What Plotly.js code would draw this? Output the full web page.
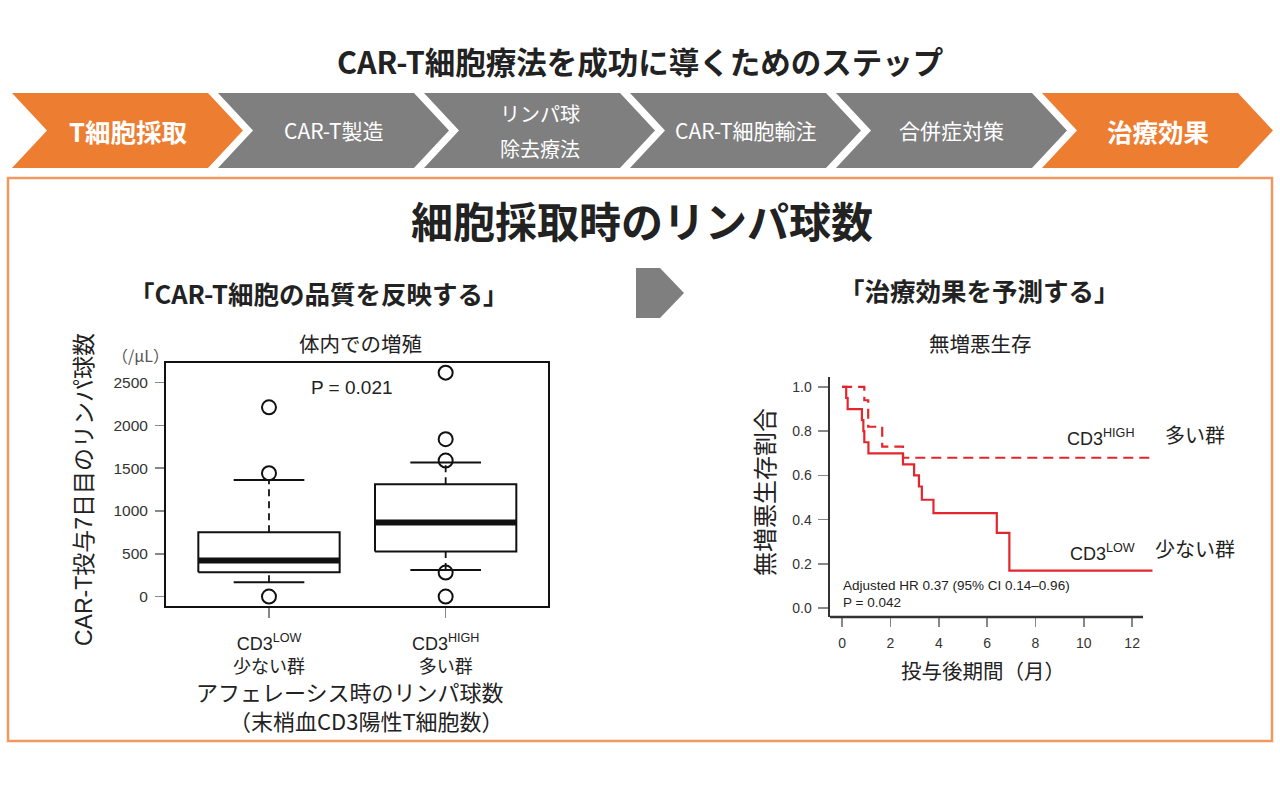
<!DOCTYPE html>
<html><head><meta charset="utf-8">
<script src="https://cdn.plot.ly/plotly-3.0.1.min.js"></script>
<style>html,body{margin:0;padding:0;background:#fff}#chart{width:1280px;height:791px}</style>
</head><body><div id="chart"></div>
<script>
const W = 1280, H = 791;

// ---- Step chevrons ----
const steps = ['T細胞採取', 'CAR-T製造', 'リンパ球<br>除去療法', 'CAR-T細胞輸注', '合併症対策', '治療効果'];
const stepHighlight = [true, false, false, false, false, true];

// ---- Box plot (体内での増殖) ----
const groupLabels = ['CD3<sup>LOW</sup><br>少ない群', 'CD3<sup>HIGH</sup><br>多い群'];
const boxQ1 = [285, 526];
const boxMedian = [421, 865];
const boxQ3 = [752, 1313];
const whiskerLow = [168, 312];
const whiskerHigh = [1363, 1566];
const pointsLow = [0, 1441, 2212];
const pointsHigh = [0, 281, 1589, 1839, 2617];
const boxYTicks = [0, 500, 1000, 1500, 2000, 2500];

// ---- Kaplan-Meier (無増悪生存) ----
const kmLowTime  = [0, 0.17, 0.23, 0.82, 0.88, 0.92, 1.09, 2.52, 2.98, 3.18, 3.30, 3.78, 6.40, 6.92, 12.85];
const kmLowSurv  = [1.0, 0.95, 0.90, 0.85, 0.80, 0.75, 0.70, 0.65, 0.60, 0.55, 0.49, 0.43, 0.34, 0.17, 0.17];
const kmHighTime = [0, 0.92, 1.08, 1.66, 2.52, 12.85];
const kmHighSurv = [1.0, 0.94, 0.82, 0.73, 0.68, 0.68];
const kmXTicks = [0, 2, 4, 6, 8, 10, 12];
const kmYTicks = [0, 0.2, 0.4, 0.6, 0.8, 1.0];

const F_JP = 'Noto Sans CJK JP, sans-serif';
const F_R = 'Liberation Sans, Arial, Noto Sans CJK JP, sans-serif';
const ORANGE = '#ED7D31', GRAY = '#7F7F7F', RED = '#E3262E';

const px = x => x / W;
const py = y => 1 - y / H;
const annotations = [];
function ann(text, x, y, size, o = {}) {
  annotations.push(Object.assign({
    text, x: px(x), y: py(y), xref: 'paper', yref: 'paper', showarrow: false,
    xanchor: o.xanchor || 'center', yanchor: 'middle',
    font: {family: o.family || F_JP, size, color: o.color || '#222', weight: o.bold ? 'bold' : 'normal'}
  }, o.extra || {}));
}
function pathOf(pts) {
  return 'M ' + pts.map(p => px(p[0]).toFixed(5) + ',' + py(p[1]).toFixed(5)).join(' L ') + ' Z';
}

const shapes = [];
// outer orange frame
shapes.push({type: 'rect', xref: 'paper', yref: 'paper', x0: px(8), x1: px(1272), y0: py(741), y1: py(178),
  line: {color: '#F0985E', width: 2.5}, fillcolor: 'rgba(0,0,0,0)', layer: 'below'});

// chevrons
const cTop = 93, cBot = 168, cMid = 130.5, cW = 196, cD = 35, cStep = 206;
steps.forEach((s, i) => {
  const xl = 12 + cStep * i;
  shapes.push({type: 'path', xref: 'paper', yref: 'paper',
    path: pathOf([[xl, cTop], [xl + cW, cTop], [xl + cW + cD, cMid], [xl + cW, cBot], [xl, cBot], [xl + cD, cMid]]),
    fillcolor: stepHighlight[i] ? ORANGE : GRAY, line: {width: 0}});
  const cx = xl + (cW + cD) / 2;
  const lines = s.split('<br>');
  if (lines.length === 1) {
    ann(s, cx, cMid, stepHighlight[i] ? 25.5 : 21, {color: '#fff', bold: stepHighlight[i]});
  } else {
    ann(lines[0], cx, 114, 20, {color: '#fff'});
    ann(lines[1], cx, 149, 20, {color: '#fff'});
  }
});

// middle gray arrow
shapes.push({type: 'path', xref: 'paper', yref: 'paper',
  path: pathOf([[636, 268], [660, 268], [684, 293], [660, 318], [636, 318]]),
  fillcolor: GRAY, line: {width: 0}});

// texts
ann('CAR-T細胞療法を成功に導くためのステップ', 640, 61, 30.5, {bold: true});
ann('細胞採取時のリンパ球数', 642, 219, 42, {bold: true});
ann('「CAR-T細胞の品質を反映する」', 318, 292, 25.5, {bold: true});
ann('「治療効果を予測する」', 979, 290, 25.5, {bold: true});
ann('体内での増殖', 360, 343, 20.5);
ann('無増悪生存', 980, 343, 20.5);

// box plot texts
ann('P = 0.021', 352, 387, 19, {family: F_R});
ann('（/μL）', 171, 355, 16, {family: F_JP, color: '#555', xanchor: 'right'});
ann('CAR-T投与7日目のリンパ球数', 84, 490, 23, {family: F_R, extra: {textangle: -90}});
ann('アフェレーシス時のリンパ球数', 350, 691, 22);
ann('（末梢血CD3陽性T細胞数）', 366, 720, 22);

// KM texts
ann('無増悪生存割合', 764, 492, 24, {extra: {textangle: -90}});
ann('投与後期間（月）', 983, 670, 20.5);
ann('CD3<sup>HIGH</sup>', 1137, 437, 18, {family: F_R, xanchor: 'right'});
ann('多い群', 1163, 434, 20, {xanchor: 'left'});
ann('CD3<sup>LOW</sup>', 1137, 552, 18, {family: F_R, xanchor: 'right'});
ann('少ない群', 1153, 548, 20, {xanchor: 'left'});
ann('Adjusted HR 0.37 (95% CI 0.14–0.96)', 841, 585, 13.5, {family: F_R, xanchor: 'left'});
ann('P = 0.042', 841, 602, 13.5, {family: F_R, xanchor: 'left'});

// KM x-axis line (stops short of the curves' end like the original)
shapes.push({type: 'line', xref: 'x2', yref: 'paper', x0: -0.5, x1: 12.45, y0: py(617), y1: py(617),
  line: {color: '#333', width: 2.5}});

// ---- traces ----
const boxX = [], boxY = [], medX = [], medY = [], whX = [], whY = [], capX = [], capY = [];
groupLabels.forEach((g, i) => {
  boxX.push(i - 0.4, i + 0.4, i + 0.4, i - 0.4, i - 0.4, null);
  boxY.push(boxQ1[i], boxQ1[i], boxQ3[i], boxQ3[i], boxQ1[i], null);
  medX.push(i - 0.4, i + 0.4, null);
  medY.push(boxMedian[i], boxMedian[i], null);
  whX.push(i, i, null, i, i, null);
  whY.push(boxQ3[i], whiskerHigh[i], null, whiskerLow[i], boxQ1[i], null);
  capX.push(i - 0.2, i + 0.2, null, i - 0.2, i + 0.2, null);
  capY.push(whiskerHigh[i], whiskerHigh[i], null, whiskerLow[i], whiskerLow[i], null);
});
const ptX = pointsLow.map(() => 0).concat(pointsHigh.map(() => 1));
const ptY = pointsLow.concat(pointsHigh);

const traces = [
  {type: 'scatter', mode: 'lines', x: whX, y: whY, xaxis: 'x', yaxis: 'y', line: {color: '#111', width: 1.8, dash: '7px,5px'}, hoverinfo: 'skip'},
  {type: 'scatter', mode: 'lines', x: capX, y: capY, xaxis: 'x', yaxis: 'y', line: {color: '#111', width: 2}, hoverinfo: 'skip'},
  {type: 'scatter', mode: 'lines', x: boxX, y: boxY, xaxis: 'x', yaxis: 'y', line: {color: '#111', width: 2}, hoverinfo: 'skip'},
  {type: 'scatter', mode: 'lines', x: medX, y: medY, xaxis: 'x', yaxis: 'y', line: {color: '#111', width: 6}, hoverinfo: 'skip'},
  {type: 'scatter', mode: 'markers', x: ptX, y: ptY, xaxis: 'x', yaxis: 'y',
    marker: {symbol: 'circle-open', size: 14, color: '#111', line: {width: 2}}, cliponaxis: false},
  {type: 'scatter', mode: 'lines', name: 'CD3 HIGH', x: kmHighTime, y: kmHighSurv, xaxis: 'x2', yaxis: 'y2',
    line: {color: RED, width: 2.2, shape: 'hv', dash: '10px,6px'}},
  {type: 'scatter', mode: 'lines', name: 'CD3 LOW', x: kmLowTime, y: kmLowSurv, xaxis: 'x2', yaxis: 'y2',
    line: {color: RED, width: 2.2, shape: 'hv'}}
];

const layout = {
  width: W, height: H, margin: {l: 0, r: 0, t: 0, b: 0},
  paper_bgcolor: '#fff', plot_bgcolor: 'rgba(0,0,0,0)', showlegend: false,
  xaxis: {domain: [166 / W, 548.3 / W], range: [-0.583, 1.581], tickvals: [0, 1], ticktext: groupLabels,
    showline: true, mirror: true, linecolor: '#111', linewidth: 2, ticks: 'outside', ticklen: 10, tickwidth: 1.5, tickcolor: '#888',
    showgrid: false, zeroline: false, tickfont: {family: F_R, size: 18, color: '#222'}, ticklabelstandoff: 10, fixedrange: true},
  yaxis: {domain: [1 - 606 / H, 1 - 363.3 / H], range: [-110, 2726], tickvals: boxYTicks,
    showline: true, mirror: true, linecolor: '#111', linewidth: 2, ticks: 'outside', ticklen: 9, tickwidth: 1.5, tickcolor: '#888',
    showgrid: false, zeroline: false, tickfont: {family: F_R, size: 15.5, color: '#333'}, ticklabelstandoff: 4, fixedrange: true},
  xaxis2: {domain: [830 / W, 1152.7 / W], range: [-0.5, 12.85], anchor: 'y2', tickvals: kmXTicks,
    showline: false, ticks: 'outside', ticklen: 9, tickwidth: 1.5, tickcolor: '#888',
    showgrid: false, zeroline: false, tickfont: {family: F_R, size: 14, color: '#333'}, ticklabelstandoff: 4, fixedrange: true},
  yaxis2: {domain: [1 - 617 / H, 1 - 377 / H], range: [-0.04, 1.045], anchor: 'x2', tickvals: kmYTicks, tickformat: '.1f',
    showline: true, linecolor: '#333', linewidth: 2.5, ticks: 'outside', ticklen: 10, tickwidth: 1.5, tickcolor: '#888',
    showgrid: false, zeroline: false, tickfont: {family: F_R, size: 14, color: '#333'}, ticklabelstandoff: 3, fixedrange: true},
  shapes, annotations
};

Plotly.newPlot('chart', traces, layout, {displayModeBar: false, staticPlot: true});
</script></body></html>
